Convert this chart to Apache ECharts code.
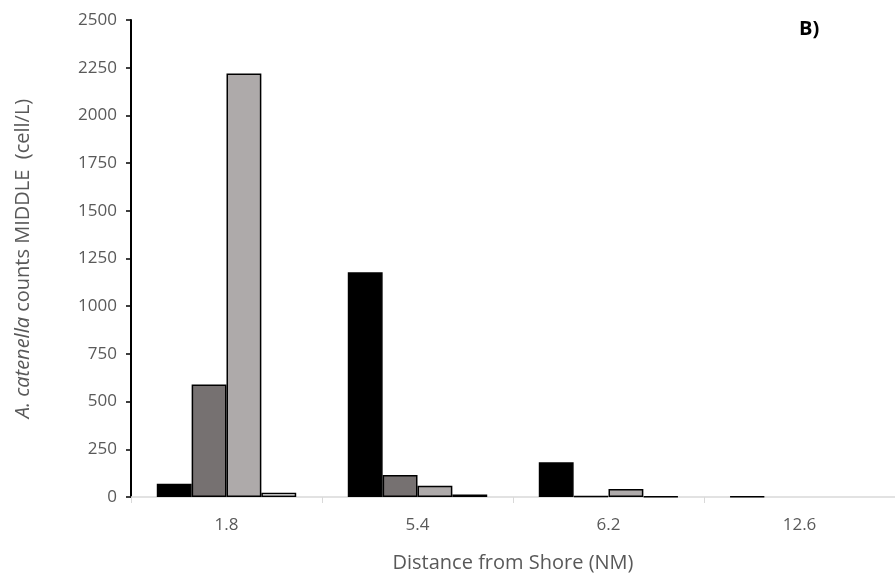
<!DOCTYPE html>
<html>
<head>
<meta charset="utf-8">
<script src="https://cdn.jsdelivr.net/npm/echarts@6/dist/echarts.min.js"></script>
<style>html,body{margin:0;padding:0;background:#fff}#c{width:895px;height:581px}</style>
</head>
<body>
<div id="c"></div>
<script>
const categories = ['1.8', '5.4', '6.2', '12.6'];
const seriesBlack = [70, 1178, 182, 3];
const seriesDark = [590, 115, 4, null];
const seriesLight = [2220, 59, 42, null];
const seriesWhite = [22, 13, 3, null];
const yTicks = [0, 250, 500, 750, 1000, 1250, 1500, 1750, 2000, 2250, 2500];

const FONT = 'Open Sans';
const chart = echarts.init(document.getElementById('c'));
function bar(data, color) {
  return {
    type: 'bar', data: data, barGap: '0%', barCategoryGap: '27%',
    itemStyle: { color: color, borderColor: '#000', borderWidth: 1.5 }
  };
}
chart.setOption({
  animation: false,
  textStyle: { fontFamily: FONT },
  grid: { left: 131, top: 20, width: 768, bottom: 84, containLabel: false },
  title: {
    text: 'B)', left: 794, top: 14,
    textStyle: { fontFamily: FONT, fontWeight: 'bold', fontSize: 20, color: '#000' }
  },
  xAxis: {
    type: 'category', data: categories,
    axisLine: { lineStyle: { color: '#d9d9d9', width: 1.5 } },
    axisTick: { show: true, length: 6, lineStyle: { color: '#d9d9d9' }, alignWithLabel: false },
    axisLabel: { color: '#595959', fontSize: 17, margin: 20, fontFamily: FONT },
    name: 'Distance from Shore (NM)', nameLocation: 'middle', nameGap: 56,
    nameTextStyle: { color: '#595959', fontSize: 20, fontFamily: FONT }
  },
  yAxis: {
    type: 'value', min: yTicks[0], max: yTicks[yTicks.length - 1], interval: 250,
    splitLine: { show: false },
    axisLine: { show: true, lineStyle: { color: '#000', width: 2 } },
    axisTick: { show: true, inside: false, length: 5, lineStyle: { color: '#000', width: 1.5 } },
    axisLabel: { color: '#595959', fontSize: 17, margin: 14, fontFamily: FONT,
      formatter: function (v) { return String(v); } },
    name: '{i|A. catenella} counts MIDDLE  (cell/L)',
    nameLocation: 'middle', nameGap: 98, nameRotate: 90,
    nameTextStyle: {
      color: '#595959', fontSize: 20, fontFamily: FONT,
      rich: { i: { fontStyle: 'italic', color: '#595959', fontSize: 20, fontFamily: FONT } }
    }
  },
  series: [
    bar(seriesBlack, '#000000'),
    bar(seriesDark, '#767171'),
    bar(seriesLight, '#aeaaaa'),
    bar(seriesWhite, '#ffffff')
  ]
});
</script>
</body>
</html>
